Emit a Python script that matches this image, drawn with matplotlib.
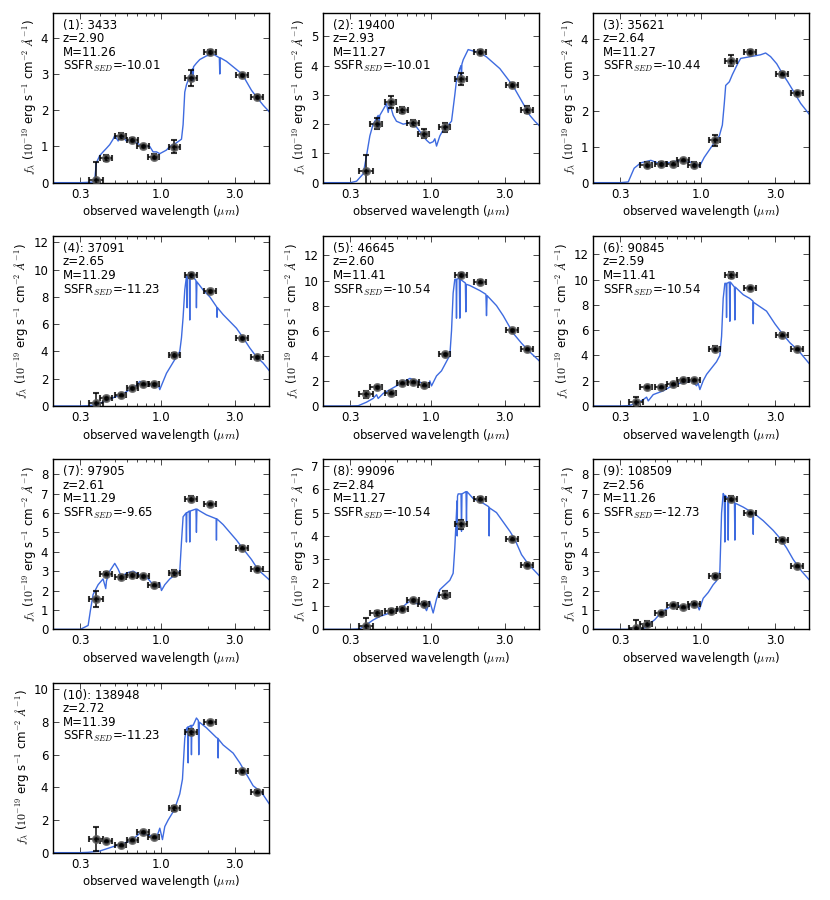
import numpy as np
import matplotlib
matplotlib.use("Agg")
import matplotlib.pyplot as plt
from matplotlib.ticker import FixedLocator, FixedFormatter, MultipleLocator, LogLocator, NullFormatter

# ---------------- data ----------------
ids = ["3433", "19400", "35621", "37091", "46645", "90845", "97905", "99096", "108509", "138948"]
zs = ["2.90", "2.93", "2.64", "2.65", "2.60", "2.59", "2.61", "2.84", "2.56", "2.72"]
masses = ["11.26", "11.27", "11.27", "11.29", "11.41", "11.41", "11.29", "11.27", "11.26", "11.39"]
ssfrs = ["-10.01", "-10.01", "-10.44", "-11.23", "-10.54", "-10.54", "-9.65", "-10.54", "-12.73", "-11.23"]

# photometric band wavelengths (micron) and half-widths
lam_phot = [0.381, 0.443, 0.548, 0.652, 0.765, 0.90, 1.22, 1.56, 2.08, 3.34, 4.16]
lam_width = [0.04, 0.04, 0.045, 0.055, 0.065, 0.075, 0.10, 0.14, 0.18, 0.30, 0.37]

nan = np.nan
flux1 = [0.07, 0.68, 1.29, 1.18, 1.01, 0.72, 0.99, 2.90, 3.61, 2.96, 2.36]
err1 = [0.50, 0.08, 0.08, 0.05, 0.04, 0.08, 0.18, 0.22, 0.06, 0.05, 0.05]
flux2 = [0.41, 2.02, 2.75, 2.48, 2.05, 1.68, 1.89, 3.55, 4.47, 3.33, 2.50]
err2 = [0.53, 0.20, 0.20, 0.10, 0.10, 0.17, 0.15, 0.20, 0.07, 0.07, 0.13]
flux3 = [nan, 0.50, 0.52, 0.52, 0.62, 0.50, 1.18, 3.39, 3.63, 3.02, 2.48]
err3 = [nan, 0.06, 0.05, 0.04, 0.03, 0.07, 0.15, 0.16, 0.05, 0.04, 0.04]
flux4 = [0.24, 0.56, 0.80, 1.29, 1.62, 1.60, 3.76, 9.58, 8.39, 4.97, 3.56]
err4 = [0.70, 0.10, 0.10, 0.10, 0.10, 0.10, 0.15, 0.20, 0.10, 0.10, 0.10]
flux5 = [0.92, 1.48, 1.06, 1.85, 1.90, 1.71, 4.12, 10.42, 9.92, 6.02, 4.54]
err5 = [0.30, 0.10, 0.10, 0.10, 0.10, 0.10, 0.10, 0.15, 0.10, 0.10, 0.10]
flux6 = [0.34, 1.52, 1.49, 1.73, 2.02, 2.04, 4.53, 10.34, 9.32, 5.65, 4.50]
err6 = [0.35, 0.10, 0.10, 0.10, 0.10, 0.10, 0.20, 0.25, 0.10, 0.10, 0.10]
flux7 = [1.57, 2.87, 2.68, 2.80, 2.73, 2.29, 2.92, 6.74, 6.45, 4.21, 3.09]
err7 = [0.43, 0.08, 0.10, 0.08, 0.07, 0.07, 0.15, 0.15, 0.05, 0.08, 0.06]
flux8 = [0.14, 0.68, 0.78, 0.87, 1.24, 1.09, 1.49, 4.49, 5.60, 3.89, 2.77]
err8 = [0.35, 0.10, 0.08, 0.08, 0.05, 0.06, 0.15, 0.20, 0.06, 0.08, 0.06]
flux9 = [0.09, 0.29, 0.82, 1.26, 1.14, 1.33, 2.77, 6.74, 6.01, 4.63, 3.27]
err9 = [0.37, 0.12, 0.06, 0.06, 0.05, 0.07, 0.10, 0.15, 0.06, 0.06, 0.06]
flux10 = [0.85, 0.71, 0.49, 0.75, 1.26, 0.98, 2.72, 7.40, 8.01, 4.98, 3.74]
err10 = [0.72, 0.07, 0.06, 0.06, 0.06, 0.06, 0.15, 0.20, 0.05, 0.08, 0.07]

# best-fit SED models (observed wavelength in micron, flux)
mlam1 = [0.20, 0.30, 0.345, 0.363, 0.372, 0.381, 0.401, 0.421, 0.443, 0.465, 0.489, 0.501, 0.527, 0.554,
         0.596, 0.643, 0.692, 0.765, 0.844, 0.887, 0.933, 0.980, 1.030, 1.083, 1.138, 1.256, 1.354, 1.387,
         1.422, 1.458, 1.532, 1.60, 1.61, 1.62, 1.692, 1.779, 1.964, 2.170, 2.38, 2.396, 2.41, 2.646,
         2.923, 3.229, 3.393, 3.842, 4.139, 4.571, 5.0]
mflux1 = [0.0, 0.0, 0.01, 0.02, 0.10, 0.55, 0.75, 0.85, 0.95, 1.05, 1.20, 1.30, 1.15, 1.30,
          1.15, 1.20, 1.10, 1.00, 1.00, 0.85, 0.85, 0.80, 0.85, 0.90, 1.00, 1.10, 1.20, 1.60,
          2.50, 2.70, 2.95, 3.15, 2.80, 3.20, 3.30, 3.40, 3.50, 3.55, 3.45, 3.00, 3.45, 3.35,
          3.20, 3.05, 2.95, 2.55, 2.37, 2.14, 1.96]

mlam2 = [0.20, 0.30, 0.329, 0.363, 0.381, 0.401, 0.421, 0.443, 0.454, 0.458, 0.465, 0.489, 0.514, 0.527,
         0.540, 0.568, 0.596, 0.627, 0.659, 0.728, 0.804, 0.887, 0.933, 0.980, 1.030, 1.056, 1.083, 1.138,
         1.195, 1.256, 1.354, 1.422, 1.458, 1.532, 1.56, 1.571, 1.58, 1.611, 1.735, 1.870, 2.064, 2.280,
         2.518, 2.781, 3.072, 3.393, 3.748, 4.037, 4.350, 4.686, 5.0]
mflux2 = [0.0, 0.0, 0.05, 0.30, 0.90, 1.60, 2.00, 2.20, 2.30, 1.85, 2.30, 2.50, 2.70, 2.40,
          2.70, 2.30, 2.10, 2.05, 2.00, 2.05, 1.90, 1.60, 1.45, 1.35, 1.40, 1.50, 1.25, 1.60,
          1.80, 1.90, 2.10, 3.00, 3.50, 3.90, 4.00, 3.60, 4.05, 4.20, 4.55, 4.50, 4.45, 4.30,
          4.10, 3.90, 3.60, 3.30, 2.90, 2.60, 2.30, 2.10, 1.95]

mlam3 = [0.20, 0.30, 0.337, 0.368, 0.406, 0.472, 0.521, 0.606, 0.739, 0.90, 0.97, 0.994, 1.045, 1.125,
         1.21, 1.31, 1.37, 1.41, 1.44, 1.52, 1.59, 1.72, 1.80, 2.09, 2.42, 2.61, 2.81, 3.08, 3.38,
         3.63, 4.0, 4.4, 5.0]
mflux3 = [0.0, 0.0, 0.02, 0.40, 0.55, 0.62, 0.55, 0.55, 0.62, 0.55, 0.45, 0.52, 0.70, 0.90,
          1.10, 1.30, 1.60, 2.20, 2.70, 2.80, 3.00, 3.30, 3.45, 3.50, 3.55, 3.60, 3.50, 3.30, 3.00,
          2.80, 2.50, 2.20, 1.90]

mlam4 = [0.20, 0.30, 0.337, 0.381, 0.421, 0.465, 0.514, 0.568, 0.627, 0.692, 0.728, 0.765, 0.804, 0.887,
         0.933, 0.956, 0.980, 1.030, 1.083, 1.138, 1.195, 1.256, 1.320, 1.354, 1.387, 1.422, 1.458,
         1.468, 1.473, 1.478, 1.522, 1.532, 1.542, 1.571, 1.68, 1.692, 1.704, 1.870, 2.064, 2.29, 2.302,
         2.315, 2.518, 2.781, 3.072, 3.393, 3.748, 4.139, 4.571, 5.0]
mflux4 = [0.0, 0.0, 0.02, 0.10, 0.30, 0.50, 0.70, 0.90, 1.20, 1.50, 1.80, 1.70, 1.60, 1.50,
          1.40, 1.60, 1.20, 1.80, 2.40, 2.80, 3.20, 3.60, 4.00, 5.00, 6.50, 8.50, 9.50,
          9.50, 7.20, 9.50, 9.60, 6.30, 9.60, 9.60, 9.20, 7.20, 9.10, 8.50, 8.00, 7.25, 6.50,
          7.20, 6.70, 6.20, 5.70, 5.00, 4.25, 3.60, 3.15, 2.60]

mlam5 = [0.20, 0.30, 0.337, 0.381, 0.421, 0.443, 0.454, 0.489, 0.540, 0.596, 0.659, 0.728, 0.804, 0.887,
         0.956, 0.980, 1.005, 1.083, 1.166, 1.226, 1.288, 1.320, 1.354, 1.387, 1.422, 1.45, 1.458, 1.466,
         1.52, 1.532, 1.544, 1.664, 1.676, 1.688, 1.779, 2.064, 2.26, 2.280, 2.30, 2.646, 2.923, 3.150,
         3.393, 3.842, 4.350, 5.0]
mflux5 = [0.0, 0.0, 0.02, 0.30, 0.60, 0.90, 0.60, 1.00, 1.30, 1.60, 1.90, 2.20, 2.00, 1.80,
          1.50, 2.00, 1.60, 2.40, 2.80, 3.30, 3.80, 4.00, 6.00, 9.00, 10.10, 10.10, 7.00, 10.10,
          10.20, 7.00, 10.10, 9.80, 7.50, 9.70, 9.60, 9.20, 8.90, 7.20, 8.80, 8.00, 7.20, 6.50,
          5.80, 5.00, 4.30, 3.60]

mlam6 = [0.20, 0.30, 0.337, 0.381, 0.421, 0.443, 0.454, 0.489, 0.568, 0.627, 0.728, 0.804, 0.866, 0.933,
         0.956, 0.980, 1.030, 1.083, 1.166, 1.256, 1.320, 1.354, 1.387, 1.422, 1.45, 1.458, 1.466, 1.52,
         1.532, 1.544, 1.64, 1.651, 1.662, 1.870, 2.064, 2.16, 2.170, 2.18, 2.646, 2.997, 3.31, 3.748,
         4.243, 5.0]
mflux6 = [0.0, 0.0, 0.02, 0.20, 0.50, 0.70, 0.40, 0.90, 1.20, 1.50, 1.80, 1.90, 2.00, 1.60,
          1.80, 1.30, 2.00, 2.50, 3.00, 3.50, 4.00, 5.50, 8.50, 9.70, 9.70, 7.00, 9.70, 9.80,
          6.70, 9.80, 9.40, 6.80, 9.40, 8.80, 8.50, 8.30, 6.50, 8.20, 7.50, 6.50, 5.80, 5.00,
          4.40, 3.35]

mlam7 = [0.20, 0.30, 0.337, 0.349, 0.363, 0.391, 0.421, 0.438, 0.443, 0.465, 0.501, 0.527, 0.554, 0.596,
         0.659, 0.728, 0.804, 0.887, 0.933, 0.980, 1.005, 1.056, 1.138, 1.226, 1.320, 1.354, 1.387, 1.45,
         1.458, 1.466, 1.52, 1.532, 1.544, 1.68, 1.692, 1.704, 1.779, 1.964, 2.27, 2.280, 2.29, 2.518,
         2.781, 3.072, 3.393, 3.842, 4.243, 5.0]
mflux7 = [0.0, 0.0, 0.20, 1.00, 1.80, 2.30, 2.60, 2.10, 2.50, 3.00, 3.40, 3.10, 2.70, 2.90,
          3.00, 2.80, 2.70, 2.30, 2.20, 2.40, 2.00, 2.30, 2.60, 2.80, 3.00, 4.50, 5.80, 6.00,
          4.50, 6.00, 6.10, 4.50, 6.10, 6.20, 5.00, 6.20, 6.10, 5.90, 5.70, 4.60, 5.70, 5.40,
          5.00, 4.60, 4.15, 3.60, 3.07, 2.56]

mlam8 = [0.20, 0.30, 0.345, 0.381, 0.421, 0.465, 0.540, 0.627, 0.692, 0.728, 0.804, 0.887, 0.933, 0.980,
         1.030, 1.083, 1.138, 1.226, 1.320, 1.387, 1.422, 1.458, 1.47, 1.473, 1.48, 1.495, 1.56, 1.571,
         1.582, 1.68, 1.692, 1.704, 1.870, 2.170, 2.36, 2.372, 2.385, 2.646, 2.923, 3.229, 3.479, 3.842,
         4.243, 5.0]
mflux8 = [0.0, 0.0, 0.02, 0.20, 0.40, 0.55, 0.70, 0.85, 1.10, 1.20, 1.10, 1.10, 0.80, 1.20,
          0.70, 1.30, 1.70, 1.90, 2.10, 2.40, 3.50, 5.00, 5.50, 4.00, 5.70, 5.80, 5.80, 4.20,
          5.80, 5.90, 4.60, 5.90, 5.60, 5.40, 5.25, 4.00, 5.20, 5.00, 4.60, 4.20, 3.85, 3.20,
          2.80, 2.30]

mlam9 = [0.20, 0.30, 0.36, 0.401, 0.443, 0.465, 0.501, 0.540, 0.582, 0.643, 0.692, 0.804, 0.866, 0.933,
         0.971, 1.030, 1.110, 1.195, 1.256, 1.320, 1.354, 1.387, 1.41, 1.422, 1.434, 1.458, 1.485, 1.495,
         1.505, 1.611, 1.64, 1.651, 1.662, 1.870, 2.16, 2.170, 2.18, 2.518, 2.923, 3.229, 3.566, 3.938,
         4.459, 5.0]
mflux9 = [0.0, 0.0, 0.0, 0.0, 0.10, 0.30, 0.50, 0.80, 1.00, 1.20, 1.25, 1.10, 1.30, 1.35,
          1.00, 1.60, 1.90, 2.30, 2.50, 3.00, 6.00, 7.00, 6.90, 4.50, 6.90, 6.80, 6.80, 4.60,
          6.80, 6.60, 6.55, 4.60, 6.50, 6.30, 6.00, 4.90, 6.00, 5.60, 5.10, 4.70, 4.20, 3.60,
          3.00, 2.55]

mlam10 = [0.20, 0.30, 0.337, 0.401, 0.465, 0.540, 0.627, 0.692, 0.728, 0.804, 0.887, 0.933, 0.980, 1.020,
          1.056, 1.110, 1.195, 1.256, 1.320, 1.374, 1.422, 1.458, 1.485, 1.495, 1.505, 1.56, 1.571, 1.582,
          1.611, 1.692, 1.74, 1.752, 1.764, 1.964, 2.280, 2.33, 2.338, 2.35, 2.518, 2.923, 3.229, 3.566,
          3.938, 4.459, 5.0]
mflux10 = [0.0, 0.0, 0.02, 0.10, 0.30, 0.50, 0.70, 1.00, 1.20, 1.10, 1.00, 0.90, 1.50, 0.80,
           1.60, 2.00, 2.50, 3.00, 3.60, 4.50, 7.00, 7.60, 7.70, 5.50, 7.70, 7.80, 6.00, 7.80,
           7.80, 8.25, 8.10, 6.00, 8.00, 7.65, 7.05, 7.00, 5.80, 6.95, 6.60, 6.10, 5.50, 4.80,
           4.10, 3.70, 3.00]

fluxes = [flux1, flux2, flux3, flux4, flux5, flux6, flux7, flux8, flux9, flux10]
errs = [err1, err2, err3, err4, err5, err6, err7, err8, err9, err10]
mlams = [mlam1, mlam2, mlam3, mlam4, mlam5, mlam6, mlam7, mlam8, mlam9, mlam10]
mfluxes = [mflux1, mflux2, mflux3, mflux4, mflux5, mflux6, mflux7, mflux8, mflux9, mflux10]
ytick_steps = [1, 1, 1, 2, 2, 2, 1, 1, 1, 2]

xticks = [0.3, 1.0, 3.0]
xticklabels = ["0.3", "1.0", "3.0"]

# ---------------- style ----------------
plt.rcParams.update({
    "font.family": ["DejaVu Sans"],
    "mathtext.fontset": "cm",
    "font.size": 8,
    "xtick.direction": "in",
    "ytick.direction": "in",
    "xtick.top": True,
    "ytick.right": True,
    "xtick.major.size": 4,
    "ytick.major.size": 4,
    "xtick.minor.size": 2,
    "xtick.major.width": 0.5,
    "ytick.major.width": 0.5,
    "xtick.minor.width": 0.5,
    "xtick.labelsize": 8.5,
    "ytick.labelsize": 8.5,
    "axes.linewidth": 1.0,
})

fig, axes = plt.subplots(4, 3, figsize=(8.3, 9.0), dpi=100)
fig.subplots_adjust(left=0.064, right=0.975, top=0.9859, bottom=0.0526, wspace=0.25, hspace=0.314)

for i, ax in enumerate(axes.flat):
    if i >= len(ids):
        ax.set_visible(False)
        continue
    ax.plot(mlams[i], mfluxes[i], color="#3e6be0", lw=1.0, zorder=2)
    f = np.array(fluxes[i], dtype=float)
    e = np.array(errs[i], dtype=float)
    lp = np.array(lam_phot)
    lw = np.array(lam_width)
    ax.errorbar(lp, f, yerr=e, xerr=lw, fmt="o", color="k", ecolor="k", ms=5,
                mec="0.35", mew=1.5, elinewidth=1.3, capsize=2.5, capthick=1.3,
                alpha=0.8, zorder=3)
    ax.set_xscale("log")
    ax.set_xlim(0.2, 5.0)
    ax.set_ylim(0, 1.3 * np.nanmax(f))
    ax.xaxis.set_major_locator(FixedLocator(xticks))
    ax.xaxis.set_major_formatter(FixedFormatter(xticklabels))
    ax.xaxis.set_minor_locator(LogLocator(base=10, subs=(2, 4, 5, 6, 7, 8, 9)))
    ax.xaxis.set_minor_formatter(NullFormatter())
    ax.yaxis.set_major_locator(MultipleLocator(ytick_steps[i]))
    ax.set_xlabel(r"observed wavelength ($\mu m$)", fontsize=8.5, labelpad=2)
    ax.set_ylabel(r"$f_\lambda$ ($10^{-19}$ erg s$^{-1}$ cm$^{-2}$ $\AA^{-1}$)", fontsize=8.5, labelpad=2)
    txt = "({}): {}\nz={}\nM={}\nSSFR$_{{SED}}$={}".format(i + 1, ids[i], zs[i], masses[i], ssfrs[i])
    ax.text(0.045, 0.965, txt, transform=ax.transAxes, ha="left", va="top", fontsize=8.5,
            linespacing=1.05)

fig.savefig("out.png", dpi=100)
